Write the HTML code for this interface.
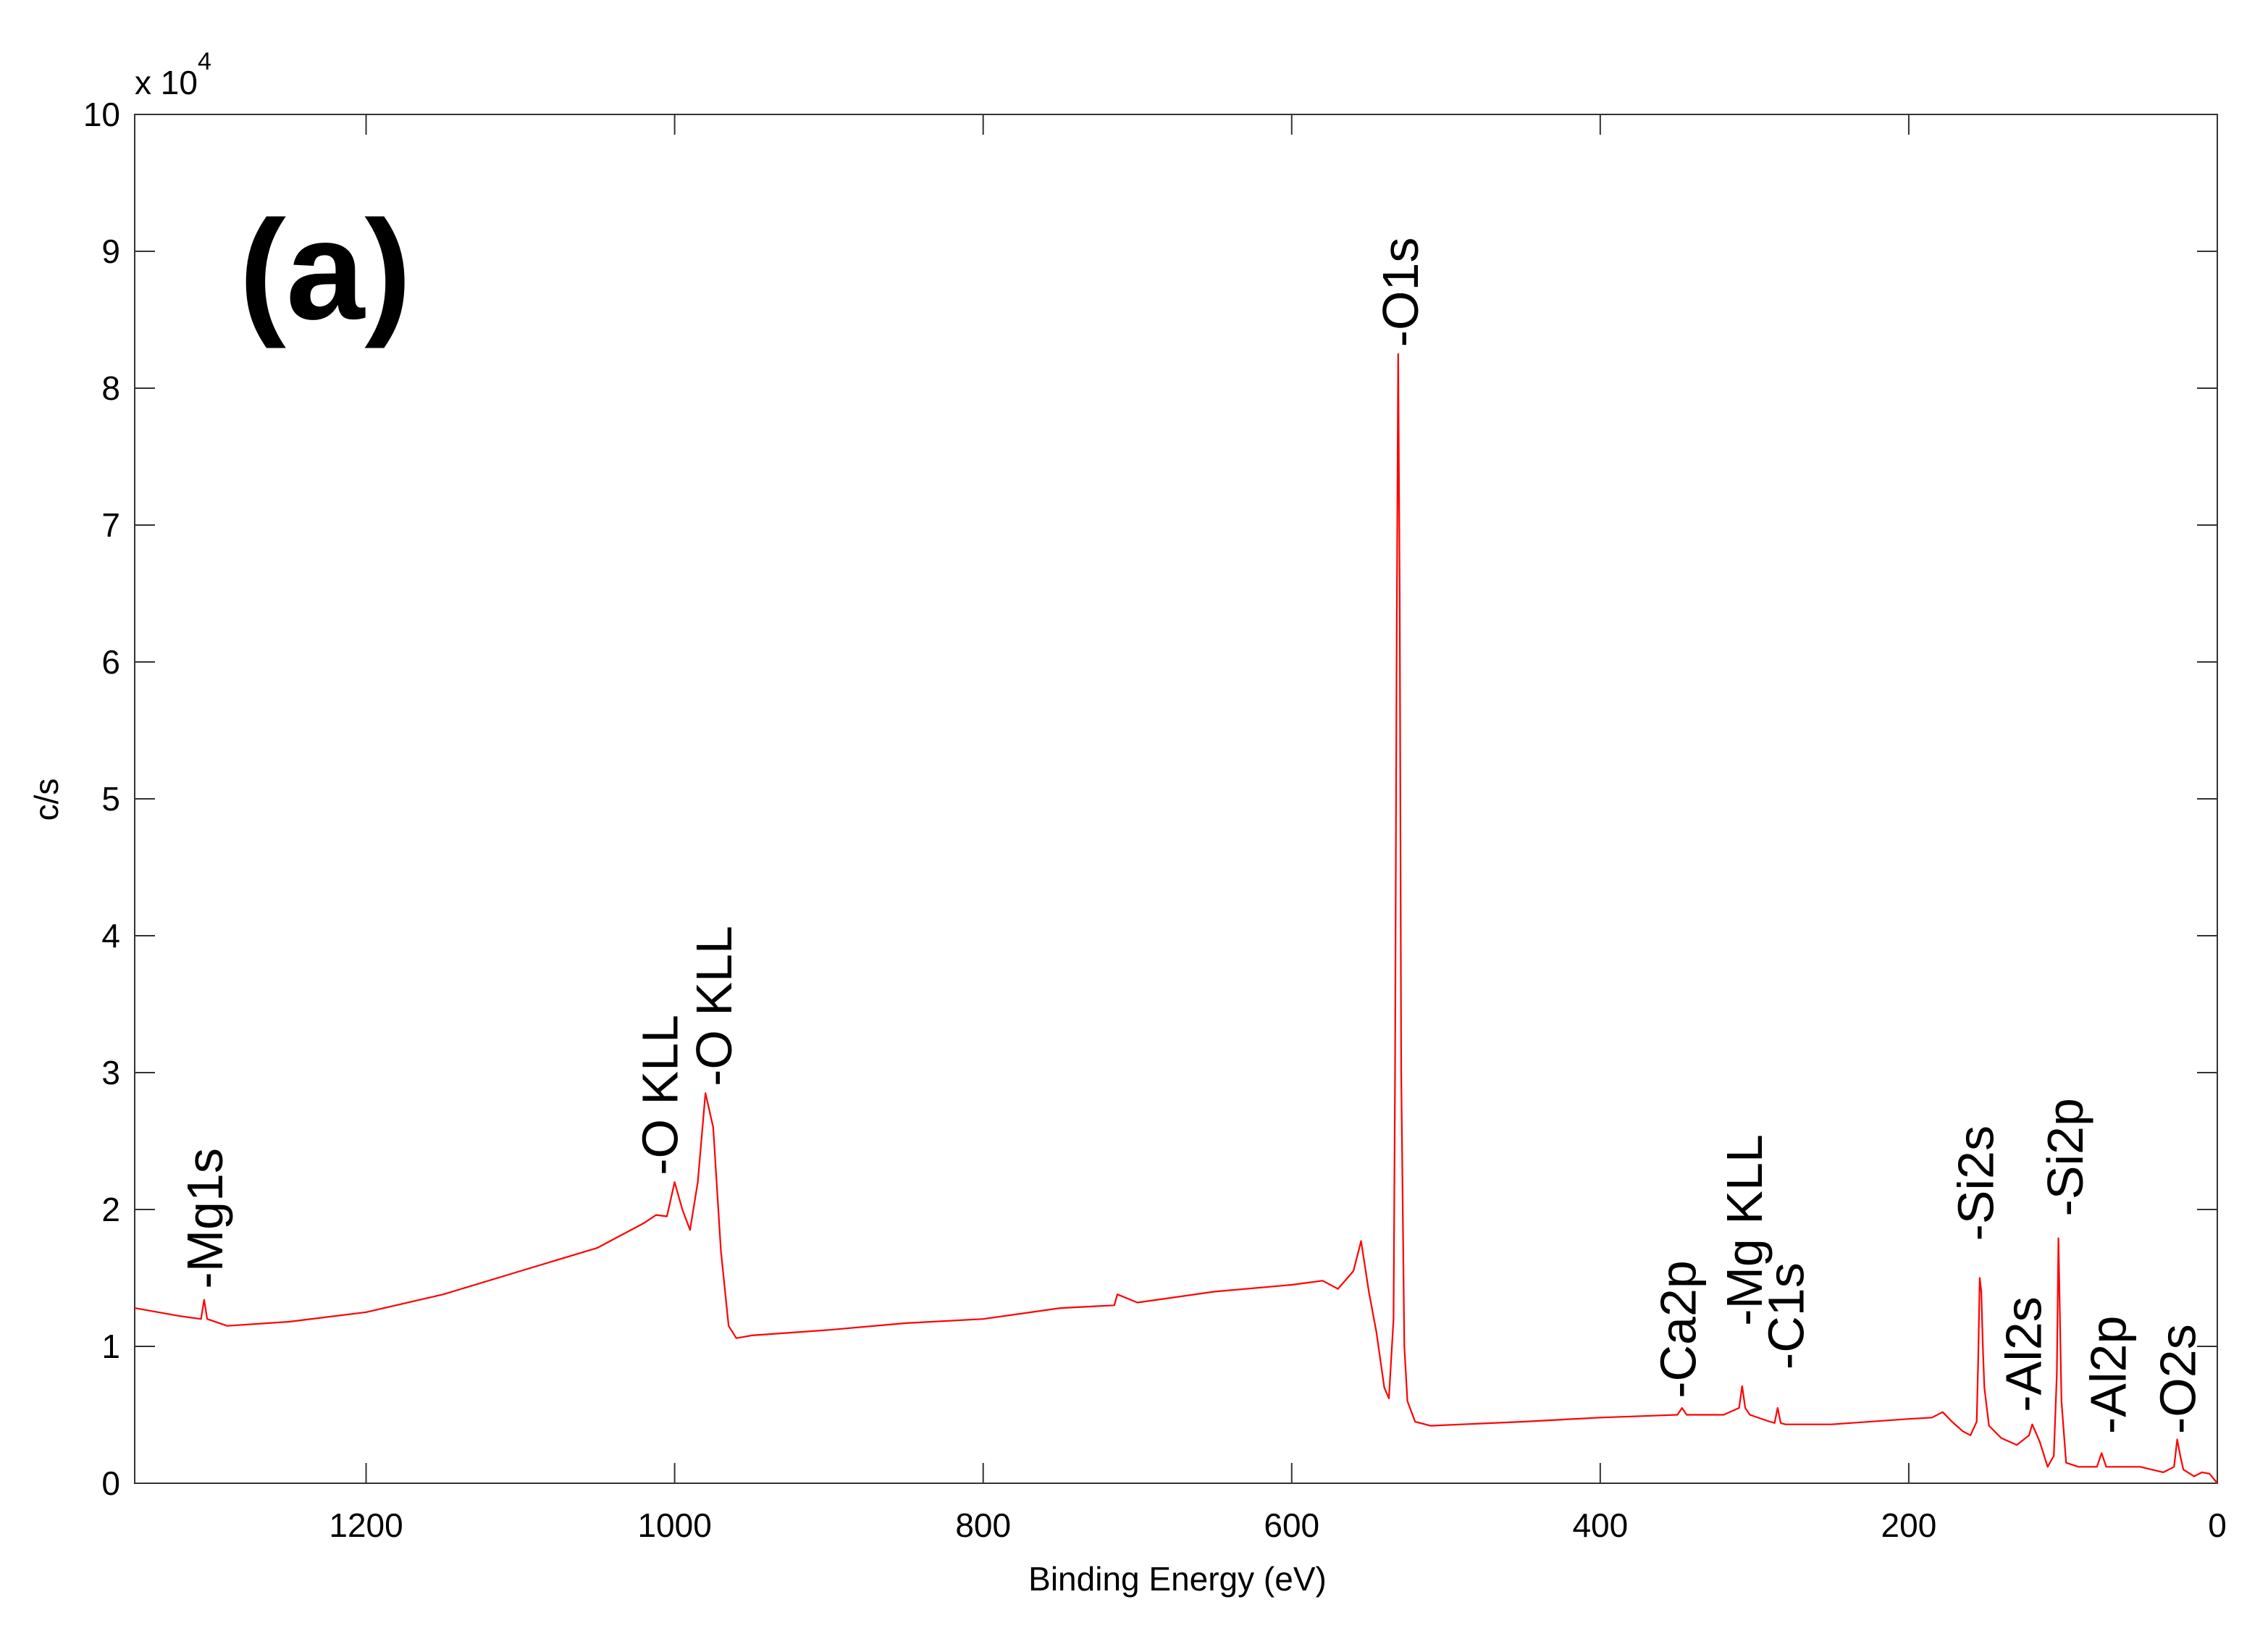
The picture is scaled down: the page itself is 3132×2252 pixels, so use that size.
<!DOCTYPE html>
<html><head><meta charset="utf-8"><style>
html,body{margin:0;padding:0;background:#fff;}
svg{display:block;font-family:"Liberation Sans",sans-serif;}
</style></head><body>
<svg id="chart" width="3132" height="2252" viewBox="0 0 3132 2252">
<rect x="0" y="0" width="3132" height="2252" fill="#fff"/>
<g id="axes"></g>
<g id="series"></g>
<g id="labels"></g>
<text x="186" y="130" font-size="46" fill="#000">x 10<tspan dy="-34" font-size="34">4</tspan></text>
<text x="330" y="440" font-size="195" font-weight="bold" fill="#000">(a)</text>
<text x="1626" y="2196" font-size="46" text-anchor="middle" fill="#000">Binding Energy (eV)</text>
<text transform="translate(80,1104) rotate(-90)" font-size="46" text-anchor="middle" fill="#000">c/s</text>
</svg>
<script>
const energy = [1350,1320,1307,1305,1303,1290,1250,1200,1150,1100,1050,1020,1012,1005,1000,995,990,985,980,975,970,965,960,950,900,850,800,750,715,713,700,650,600,580,570,560,555,550,545,540,537,534,533,532,531,530,529,527,525,520,510,450,400,350,347,344,320,310,308,306,303,290,287,285,283,280,250,200,185,178,172,165,160,156,155,154,153,152,151,148,140,130,122,120,118,115,110,106,104,103,102,101,98,90,78,75,72,50,35,28,26,24,22,15,10,5,0];
const counts = [1.28,1.22,1.2,1.34,1.2,1.15,1.18,1.25,1.38,1.55,1.72,1.9,1.96,1.95,2.2,2.0,1.85,2.2,2.85,2.6,1.7,1.15,1.06,1.08,1.12,1.17,1.2,1.28,1.3,1.38,1.32,1.4,1.45,1.48,1.42,1.55,1.77,1.4,1.1,0.7,0.62,1.2,3.0,6.0,8.25,6.5,3.0,1.0,0.6,0.45,0.42,0.45,0.48,0.5,0.55,0.5,0.5,0.55,0.71,0.55,0.5,0.45,0.44,0.55,0.44,0.43,0.43,0.47,0.48,0.52,0.45,0.38,0.35,0.45,0.9,1.5,1.4,1.0,0.7,0.42,0.33,0.28,0.35,0.43,0.38,0.3,0.12,0.2,0.8,1.79,1.2,0.6,0.15,0.12,0.12,0.22,0.12,0.12,0.08,0.12,0.32,0.2,0.1,0.05,0.08,0.07,0.0];
const xTicks = [1200,1000,800,600,400,200,0];
const yTicks = [0,1,2,3,4,5,6,7,8,9,10];
const peakNames = ["-Mg1s","-O KLL","-O KLL","-O1s","-Ca2p","-Mg KLL","-C1s","-Si2s","-Al2s","-Si2p","-Al2p","-O2s"];
const peakEnergy = [1305,1010,975,530,350,307,280,157,126,99,71,26];
const peakLevel = [1.42,2.25,2.9,8.3,0.62,1.15,0.83,1.77,0.52,1.95,0.36,0.36];

const L=186,R=3062,T=158,B=2048,XMAX=1350,XMIN=0,YMAX=10;
const NS="http://www.w3.org/2000/svg";
function xs(e){return R-(e-XMIN)/(XMAX-XMIN)*(R-L);}
function ys(v){return B-v/YMAX*(B-T);}
function mk(tag,attrs,parent){const el=document.createElementNS(NS,tag);for(const k in attrs)el.setAttribute(k,attrs[k]);parent.appendChild(el);return el;}
const axes=document.getElementById('axes');
const frame=mk('rect',{x:L,y:T,width:R-L,height:B-T,fill:'none',stroke:'#333','stroke-width':2},axes);


xTicks.forEach(t=>{
  const x=xs(t);
  const tb=mk('line',{x1:x,y1:B,x2:x,y2:B-28,stroke:'#333','stroke-width':2},axes);
  
  
  const tt=mk('line',{x1:x,y1:T,x2:x,y2:T+28,stroke:'#333','stroke-width':2},axes);
  
  
  const lb=mk('text',{x:x,y:B+74,'font-size':46,'text-anchor':'middle',fill:'#000'},axes);
  lb.textContent=t;
  
  
});
yTicks.forEach(t=>{
  const y=ys(t);
  const tl=mk('line',{x1:L,y1:y,x2:L+28,y2:y,stroke:'#333','stroke-width':2},axes);
  
  
  const tr=mk('line',{x1:R,y1:y,x2:R-28,y2:y,stroke:'#333','stroke-width':2},axes);
  
  
  const lb=mk('text',{x:166,y:y+16,'font-size':46,'text-anchor':'end',fill:'#000'},axes);
  lb.textContent=t;
  
  
});
const series=document.getElementById('series');
let d='';
energy.forEach((e,i)=>{d+=(i?'L':'M')+xs(e).toFixed(1)+' '+ys(counts[i]).toFixed(1);});
const path=mk('path',{d:d,fill:'none',stroke:'#f00','stroke-width':2.2,'stroke-linejoin':'round'},series);


const labels=document.getElementById('labels');
peakNames.forEach((n,i)=>{
  const x=xs(peakEnergy[i])+25, y=ys(peakLevel[i]);
  const t=mk('text',{transform:`translate(${x.toFixed(1)},${y.toFixed(1)}) rotate(-90)`,'font-size':70,fill:'#000'},labels);
  t.textContent=n;
  
  
});
</script>
</body></html>
